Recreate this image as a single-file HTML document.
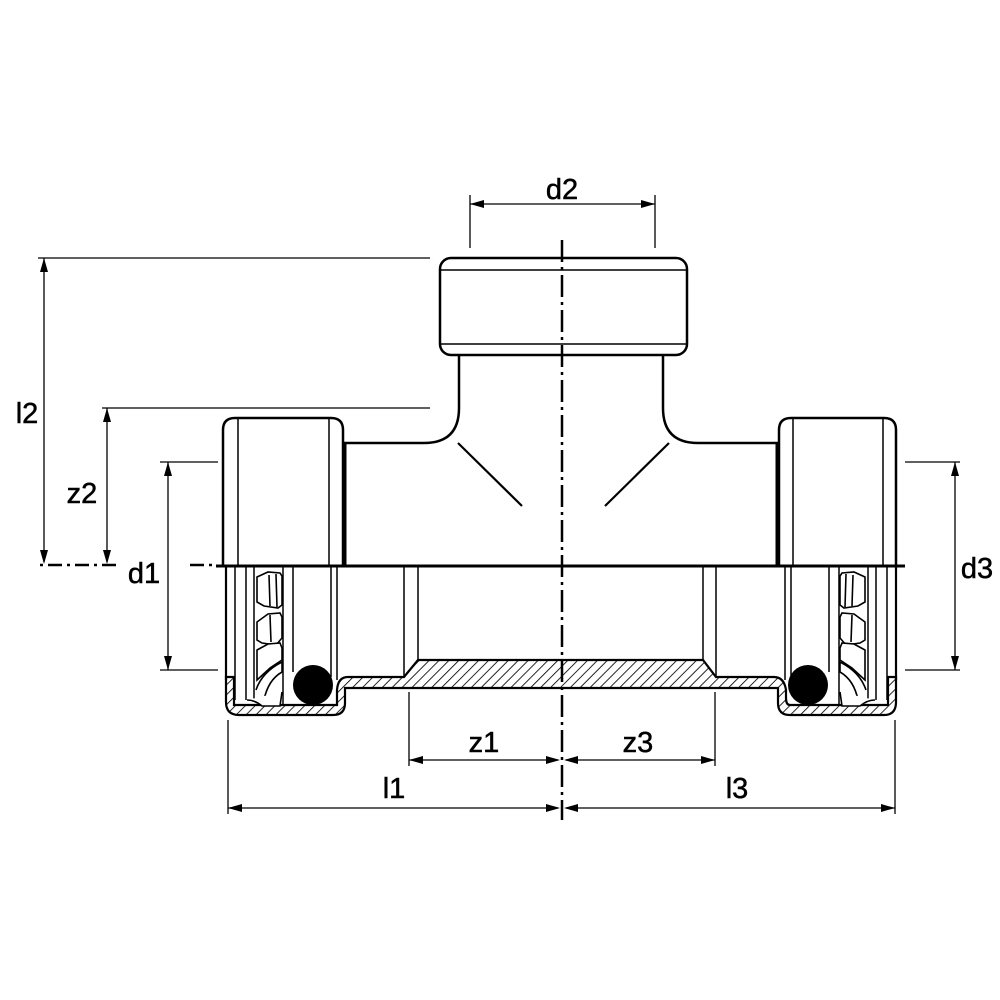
<!DOCTYPE html>
<html><head><style>html,body{margin:0;padding:0;background:#fff}svg{display:block}</style></head>
<body>
<svg width="1000" height="1000" viewBox="0 0 1000 1000" xmlns="http://www.w3.org/2000/svg" font-family="Liberation Sans, Arial, sans-serif">
<defs>
<pattern id="h" width="7" height="7" patternUnits="userSpaceOnUse" patternTransform="rotate(45)">
<line x1="0" y1="0" x2="0" y2="7" stroke="#000" stroke-width="1.7"/>
</pattern>
<g id="teeth" fill="#fff" stroke="#000" stroke-width="1.6">
<path d="M257,577 L268,572 L280,573 L282,576 L282,605 L278,608 L264,606 L257,602 Z"/>
<path d="M269,575 L270,606 M276,574 L277,607"/>
<path d="M257,622 L268,614 L280,613 L282,617 L282,638 L276,645 L262,643 L257,640 Z"/>
<path d="M270,615 L271,642"/>
<path d="M257,650 L268,644 L280,643 L282,648 L282,660 L270,668 L257,680 Z"/>
<path d="M256,690 Q262,672 282,662 L282,672 Q268,680 264,700"/>
<path d="M247,700 Q255,700 262,706 L280,706 L282,692"/>
</g>
</defs>
<g fill="none" stroke="#000" stroke-linecap="butt">
<rect x="440" y="258" width="247" height="97" rx="11" stroke-width="2.5"/>
<line x1="441" y1="270" x2="686" y2="270" stroke-width="1.5"/>
<line x1="441" y1="344" x2="686" y2="344" stroke-width="1.5"/>
<path d="M459,355 L459,408 Q459,443 424,443 L343,443" stroke-width="2.5"/>
<path d="M663,355 L663,408 Q663,443 698,443 L779,443" stroke-width="2.5"/>
<line x1="458" y1="443" x2="522" y2="506" stroke-width="2.2"/>
<line x1="669" y1="443" x2="605" y2="506" stroke-width="2.2"/>
<path d="M223,566 L223,430 Q223,418 235,418 L331,418 Q343,418 343,430 L343,566" stroke-width="2.5"/>
<line x1="345" y1="443" x2="345" y2="566" stroke-width="3"/>
<line x1="238" y1="419" x2="238" y2="566" stroke-width="1.5"/>
<line x1="329" y1="419" x2="329" y2="566" stroke-width="1.5"/>
<path d="M779,566 L779,430 Q779,418 791,418 L884,418 Q896,418 896,430 L896,566" stroke-width="2.5"/>
<line x1="777" y1="443" x2="777" y2="566" stroke-width="3"/>
<line x1="793" y1="419" x2="793" y2="566" stroke-width="1.5"/>
<line x1="883" y1="419" x2="883" y2="566" stroke-width="1.5"/>
<line x1="216" y1="566" x2="905" y2="566" stroke-width="3"/>
</g>
<path d="M226,677 L226,702 Q226,715 239,715 L333,715 Q345,715 345,703 L345,688 L778,688 L778,703 Q778,715 790,715 L884,715 Q896,715 896,702 L896,677 L888,677 L888,705 L790,705 Q786,705 786,698 L786,690 Q784,677 774,677 L716,677 L703,660 L418,660 L404,677 L348,677 Q338,677 337,690 L337,705 L234,705 L234,677 Z" fill="url(#h)" stroke="#000" stroke-width="2.2"/>
<g fill="none" stroke="#000" stroke-width="1.5">
<line x1="226" y1="566" x2="226" y2="680" stroke-width="2.2"/>
<line x1="235" y1="566" x2="235" y2="700"/>
<line x1="246" y1="566" x2="246" y2="700"/>
<line x1="254" y1="566" x2="254" y2="700"/>
<line x1="283" y1="566" x2="283" y2="705"/>
<line x1="293" y1="566" x2="293" y2="672"/>
<line x1="331" y1="566" x2="331" y2="677"/>
<line x1="337" y1="566" x2="337" y2="680"/>
<line x1="404" y1="566" x2="404" y2="677"/>
<line x1="418" y1="566" x2="418" y2="660"/>
<line x1="703" y1="566" x2="703" y2="660"/>
<line x1="716" y1="566" x2="716" y2="677"/>
<line x1="896" y1="566" x2="896" y2="680" stroke-width="2.2"/>
<line x1="887" y1="566" x2="887" y2="700"/>
<line x1="876" y1="566" x2="876" y2="700"/>
<line x1="868" y1="566" x2="868" y2="700"/>
<line x1="839" y1="566" x2="839" y2="705"/>
<line x1="829" y1="566" x2="829" y2="672"/>
<line x1="791" y1="566" x2="791" y2="677"/>
<line x1="785" y1="566" x2="785" y2="680"/>
</g>
<use href="#teeth"/>
<use href="#teeth" transform="translate(1122,0) scale(-1,1)"/>
<circle cx="313" cy="685" r="20" fill="#000"/>
<circle cx="808" cy="685" r="20" fill="#000"/>
<g stroke="#000" stroke-width="2.5" fill="none">
<line x1="562" y1="240" x2="562" y2="820" stroke-dasharray="22,5,3,5"/>
<line x1="40" y1="565" x2="120" y2="565" stroke-dasharray="3,5,14,5"/>
<line x1="190" y1="565" x2="216" y2="565" stroke-dasharray="14,5,3,5"/>
</g>
<g stroke="#000" stroke-width="1.3" fill="none">
<line x1="470" y1="195" x2="470" y2="248"/><line x1="655" y1="195" x2="655" y2="248"/>
<line x1="470" y1="204" x2="655" y2="204"/>
<line x1="38" y1="258" x2="430" y2="258"/><line x1="44" y1="258" x2="44" y2="562"/>
<line x1="102" y1="408" x2="430" y2="408"/><line x1="107" y1="408" x2="107" y2="562"/>
<line x1="160" y1="462" x2="218" y2="462"/><line x1="160" y1="670" x2="218" y2="670"/><line x1="168" y1="462" x2="168" y2="670"/>
<line x1="905" y1="462" x2="960" y2="462"/><line x1="905" y1="670" x2="960" y2="670"/><line x1="955" y1="462" x2="955" y2="670"/>
<line x1="409" y1="692" x2="409" y2="766"/><line x1="715" y1="692" x2="715" y2="766"/>
<line x1="228" y1="720" x2="228" y2="814"/><line x1="895" y1="720" x2="895" y2="814"/>
<line x1="409" y1="760" x2="558" y2="760"/><line x1="566" y1="760" x2="715" y2="760"/>
<line x1="228" y1="808" x2="558" y2="808"/><line x1="566" y1="808" x2="895" y2="808"/>
</g>
<g fill="#000">
<path d="M470,204 l14,-4 v8z"/><path d="M655,204 l-14,-4 v8z"/>
<path d="M44,258 l-4,14 h8z"/><path d="M44,564 l-4,-14 h8z"/>
<path d="M107,408 l-4,14 h8z"/><path d="M107,564 l-4,-14 h8z"/>
<path d="M168,462 l-4,14 h8z"/><path d="M168,670 l-4,-14 h8z"/>
<path d="M955,462 l-4,14 h8z"/><path d="M955,670 l-4,-14 h8z"/>
<path d="M409,760 l14,-4 v8z"/><path d="M560,760 l-14,-4 v8z"/>
<path d="M564,760 l14,-4 v8z"/><path d="M715,760 l-14,-4 v8z"/>
<path d="M228,808 l14,-4 v8z"/><path d="M560,808 l-14,-4 v8z"/>
<path d="M564,808 l14,-4 v8z"/><path d="M895,808 l-14,-4 v8z"/>
</g>
<g font-size="29" fill="#000" text-anchor="middle" stroke="#000" stroke-width="0.5">
<text x="562" y="199">d2</text>
<text x="27" y="423">l2</text>
<text x="82" y="503">z2</text>
<text x="144" y="583">d1</text>
<text x="977" y="578">d3</text>
<text x="484" y="752">z1</text>
<text x="638" y="752">z3</text>
<text x="394" y="798">l1</text>
<text x="737" y="798">l3</text>
</g>
</svg>
</body></html>
